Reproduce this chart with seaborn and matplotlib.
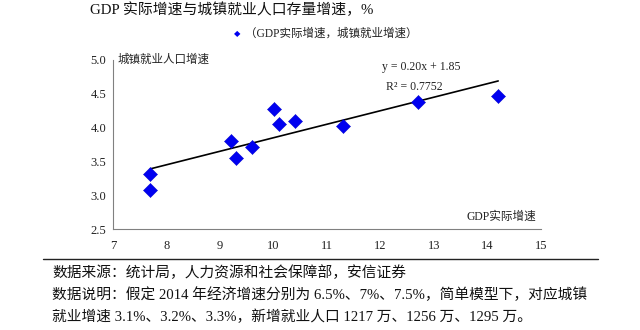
import matplotlib
matplotlib.use("Agg")
import matplotlib.pyplot as plt
import seaborn as sns
import numpy as np
import pandas as pd

# GDP real growth vs. urban employment growth (%)
gdp_growth = [7.7, 7.7, 9.2, 9.3, 9.6, 10.0, 10.1, 10.4, 11.3, 12.7, 14.2]
employment_growth = [3.32, 3.07, 3.80, 3.55, 3.72, 4.27, 4.06, 4.10, 4.02, 4.38, 4.47]

# linear trend as stated in the annotation
trend_slope = 0.20
trend_intercept = 1.85
r_squared = 0.7752

x_ticks = [7, 8, 9, 10, 11, 12, 13, 14, 15]
y_ticks = [2.5, 3.0, 3.5, 4.0, 4.5, 5.0]

sns.set_theme(style="white")
fonts = ["Liberation Serif", "Noto Sans CJK SC", "DejaVu Sans"]
plt.rcParams["font.family"] = fonts

df = pd.DataFrame({"gdp": gdp_growth, "emp": employment_growth})

fig = plt.figure(figsize=(6.4, 3.3), dpi=100)
ax = fig.add_axes([113 / 640, 1 - 229 / 330, (541 - 113) / 640, (229 - 60) / 330])

sns.scatterplot(data=df, x="gdp", y="emp", ax=ax, marker="D", s=52,
                color="#0000f0", edgecolor="#0000c8", linewidth=0.3, zorder=3,
                legend=False)

tx = np.array([min(gdp_growth), max(gdp_growth)])
sns.lineplot(x=tx, y=trend_slope * tx + trend_intercept, ax=ax,
             color="black", linewidth=1.2, zorder=2)

ax.set_xlim(7, 15)
ax.set_ylim(2.5, 5.0)
ax.set_xticks(x_ticks)
ax.set_yticks(y_ticks)
ax.set_xticklabels([str(v) for v in x_ticks], fontsize=9)
ax.set_yticklabels([f"{v:.1f}" for v in y_ticks], fontsize=9)
ax.set_xlabel("")
ax.set_ylabel("")
for side in ["top", "right"]:
    ax.spines[side].set_visible(False)
for side in ["left", "bottom"]:
    ax.spines[side].set_color("#808080")
    ax.spines[side].set_linewidth(0.8)
ax.tick_params(axis="both", direction="out", length=3, width=0.8,
               color="#808080", pad=2, labelcolor="#222222")
ax.tick_params(axis="x", pad=5)

ax.text(0.01, 1.0, "城镇就业人口增速", transform=ax.transAxes, fontsize=8.3,
        va="center", ha="left", color="#222222")
ax.text(0.988, 0.071, "GDP实际增速", transform=ax.transAxes, fontsize=8.4,
        va="center", ha="right", color="#222222")
ax.text(12.03, 4.90, f"y = {trend_slope:.2f}x + {trend_intercept:.2f}",
        fontsize=8.5, ha="left", va="center", color="#222222")
ax.text(12.10, 4.60, f"R² = {r_squared:.4f}",
        fontsize=8.5, ha="left", va="center", color="#222222")

# title and legend line
fig.text(90 / 640, 1 - 10 / 330, "GDP 实际增速与城镇就业人口存量增速，%",
         fontsize=10.7, ha="left", va="center", color="#111111")
fig.text(237 / 640, 1 - 34 / 330, "◆", fontsize=6, ha="center", va="center",
         color="#0000f0", family=["DejaVu Sans"])
fig.text(245 / 640, 1 - 34 / 330, "（GDP实际增速，城镇就业增速）",
         fontsize=8.3, ha="left", va="center", color="#222222")

# separator rule and notes
fig.add_artist(plt.Line2D([43 / 640, 598 / 640], [1 - 259 / 330, 1 - 259 / 330],
                          color="#222222", linewidth=1.0))
notes = [
    "数据来源：统计局，人力资源和社会保障部，安信证券",
    "数据说明：假定 2014 年经济增速分别为 6.5%、7%、7.5%，简单模型下，对应城镇",
    "就业增速 3.1%、3.2%、3.3%，新增就业人口 1217 万、1256 万、1295 万。",
]
for i, line in enumerate(notes):
    fig.text(52 / 640, 1 - (273 + 22 * i) / 330, line, fontsize=10.6,
             ha="left", va="center", color="#111111")

fig.savefig("out.png", dpi=100, facecolor="white")
